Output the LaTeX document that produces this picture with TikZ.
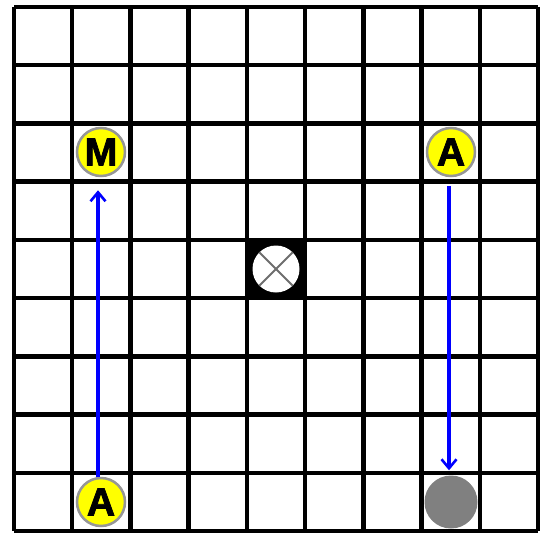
\documentclass[tikz,border=0pt]{standalone}
\usepackage{fontspec}
\setmainfont{Liberation Sans}
\usetikzlibrary{arrows.meta}
\definecolor{tokyellow}{RGB}{255,255,0}
\definecolor{tokgray}{RGB}{128,128,128}
\definecolor{rimgray}{RGB}{150,150,150}
\definecolor{xgray}{RGB}{110,110,110}
\definecolor{moveblue}{RGB}{0,0,255}
\tikzset{
  gridline/.style={line width=4.5pt, black},
  token/.style={circle, fill=tokyellow, draw=rimgray, line width=2.5pt, minimum size=48pt, inner sep=0pt,
    font=\fontsize{39}{39}\selectfont\bfseries\addfontfeature{FakeBold=2}},
  ghost/.style={circle, fill=tokgray, minimum size=53pt, inner sep=0pt},
  target/.style={circle, fill=white, minimum size=47pt, inner sep=0pt},
  move/.style={line width=3.2pt, moveblue, -{Straight Barb[length=9pt,width=15pt,line width=2.6pt]}},
}
\begin{document}
\begin{tikzpicture}[x=1pt,y=-1pt]
\useasboundingbox (0,0) rectangle (540,532);
\fill[white] (0,0) rectangle (540,532);
% center black cell
\fill[black] (246.9,239.9) rectangle (305.1,298.1);
% grid
\foreach \i in {0,...,9} {
  \draw[gridline] ({14+\i*58.22},7) -- ({14+\i*58.22},531);
  \draw[gridline] (14,{7+\i*58.22}) -- (538,{7+\i*58.22});
}
% target in center
\node[target] (T) at (276,269) {};
\draw[xgray, line width=2pt] (T.north west) -- (T.south east);
\draw[xgray, line width=2pt] (T.north east) -- (T.south west);
% tokens
\node[token] (M) at (101,152) {M};
\node[token] (A2) at (451,152) {A};
\node[token] (A1) at (101,502) {A};
\node[ghost] (G) at (451,502) {};
% moves
\draw[move, shorten >=13pt] ([xshift=-3pt]A1.north) -- ([xshift=-3pt]M.south);
\draw[move, shorten <=9pt, shorten >=5pt] ([xshift=-2pt]A2.south) -- ([xshift=-2pt]G.north);
\end{tikzpicture}
\end{document}
